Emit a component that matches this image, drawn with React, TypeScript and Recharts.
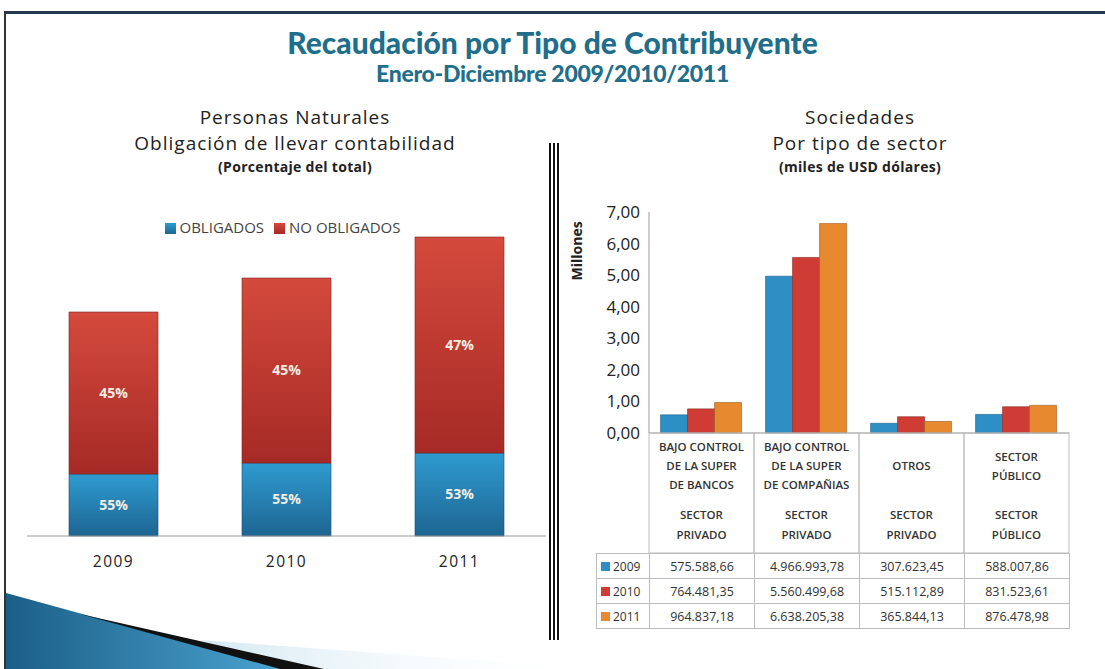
import React from 'react';
import { BarChart, Bar, XAxis, YAxis, Legend, LabelList } from 'recharts';

// Personas naturales (altura relativa de cada segmento) y etiquetas
const years = ['2009', '2010', '2011'];
const obligados = [62, 73, 83];
const noObligados = [162, 185, 216];
const obligadosPct = ['55%', '55%', '53%'];
const noObligadosPct = ['45%', '45%', '47%'];

// Sociedades por tipo de sector (USD)
const sectorKeys = ['bancos', 'companias', 'otros', 'publico'];
const headerTop = [
  ['BAJO CONTROL', 'DE LA SUPER', 'DE BANCOS'],
  ['BAJO CONTROL', 'DE LA SUPER', 'DE COMPAÑIAS'],
  ['OTROS'],
  ['SECTOR', 'PÚBLICO'],
];
const headerBottom = [
  ['SECTOR', 'PRIVADO'],
  ['SECTOR', 'PRIVADO'],
  ['SECTOR', 'PRIVADO'],
  ['SECTOR', 'PÚBLICO'],
];
const rec2009 = [575588.66, 4966993.78, 307623.45, 588007.86];
const rec2010 = [764481.35, 5560499.68, 515112.89, 831523.61];
const rec2011 = [964837.18, 6638205.38, 365844.13, 876478.98];
const yTicks = [0, 1, 2, 3, 4, 5, 6, 7];

const seriesColors = { y2009: '#2e8fc5', y2010: '#cf3c35', y2011: '#e6892f' };

const personasData = years.map((y, i) => ({
  year: y,
  obligados: obligados[i],
  noObligados: noObligados[i],
  obPct: obligadosPct[i],
  noPct: noObligadosPct[i],
}));

const sociedadesData = sectorKeys.map((k, i) => ({
  key: k,
  y2009: rec2009[i] / 1e6,
  y2010: rec2010[i] / 1e6,
  y2011: rec2011[i] / 1e6,
}));

const tableRows = [
  { label: '2009', color: seriesColors.y2009, values: rec2009 },
  { label: '2010', color: seriesColors.y2010, values: rec2010 },
  { label: '2011', color: seriesColors.y2011, values: rec2011 },
];

function fmtEs(v: number) {
  const [int, dec] = v.toFixed(2).split('.');
  return int.replace(/\B(?=(\d{3})+(?!\d))/g, '.') + ',' + dec;
}

const BAND = 105;
const HEADER_H = 120;

function SectorTick(props: any) {
  const { x, y, payload } = props;
  const i = payload.index;
  const top = headerTop[i];
  const bottom = headerBottom[i];
  const topStart = 466 - 433 - ((top.length - 1) * 19) / 2;
  return (
    <g>
      <rect x={x - BAND / 2} y={y} width={BAND} height={HEADER_H} fill="none" stroke="#bdbdbd" />
      {top.map((t: string, j: number) => (
        <text key={'t' + j} x={x} y={y + topStart + j * 19} dy="0.35em" textAnchor="middle"
          fontSize={11.5} fill="#333" fontWeight={600}>{t}</text>
      ))}
      {bottom.map((t: string, j: number) => (
        <text key={'b' + j} x={x} y={y + 82 + j * 20} dy="0.35em" textAnchor="middle"
          fontSize={11.5} fill="#333" fontWeight={600}>{t}</text>
      ))}
    </g>
  );
}

const font = "'Open Sans', 'Noto Sans', sans-serif";
const titleColor = '#1f6e8b';
const legendOrder: Record<string, number> = { obligados: 0, noObligados: 1 };
const subLine = { fontSize: 19, lineHeight: '26px', letterSpacing: 1 };
const subNote = { fontSize: 14, fontWeight: 700, lineHeight: '22px', letterSpacing: 0.3 };

export default function App() {
  return (
    <div style={{ position: 'absolute', left: 0, top: 0, width: 1105, height: 669, background: '#fff', overflow: 'hidden', fontFamily: font }}>
      {/* marco */}
      <div style={{ position: 'absolute', left: 4, top: 11, width: 1101, height: 3, background: '#24384f' }} />
      <div style={{ position: 'absolute', left: 4, top: 11, width: 2, height: 658, background: '#333' }} />

      {/* decoracion inferior */}
      <svg width={1105} height={669} style={{ position: 'absolute', left: 0, top: 0 }}>
        <defs>
          <linearGradient id="swoosh" x1="0" y1="0" x2="1" y2="0">
            <stop offset="0" stopColor="#1b5f88" />
            <stop offset="1" stopColor="#4aa3cf" />
          </linearGradient>
          <linearGradient id="glow" x1="0" y1="0" x2="1" y2="0">
            <stop offset="0" stopColor="#cfe6f1" stopOpacity="0.9" />
            <stop offset="1" stopColor="#ffffff" stopOpacity="0" />
          </linearGradient>
        </defs>
        <path d="M200,640 L600,669 L300,669 Z" fill="url(#glow)" />
        <path d="M6,593 L282,669 L6,669 Z" fill="url(#swoosh)" />
        <path d="M80,614 L324,669 L280,669 Z" fill="#111" />
      </svg>

      {/* titulos */}
      <div style={{ position: 'absolute', left: 0, top: 24, width: 1105, textAlign: 'center', fontFamily: 'Lato, sans-serif', fontWeight: 900, fontSize: 30, color: titleColor, lineHeight: '36px' }}>
        Recaudación por Tipo de Contribuyente
      </div>
      <div style={{ position: 'absolute', left: 0, top: 59, width: 1105, textAlign: 'center', fontFamily: 'Lato, sans-serif', fontWeight: 900, fontSize: 23, color: titleColor, lineHeight: '28px', letterSpacing: -0.3 }}>
        Enero-Diciembre 2009/2010/2011
      </div>

      <div style={{ position: 'absolute', left: 95, top: 104, width: 400, textAlign: 'center', color: '#222' }}>
        <div style={subLine}>Personas Naturales</div>
        <div style={subLine}>Obligación de llevar contabilidad</div>
        <div style={subNote}>(Porcentaje del total)</div>
      </div>
      <div style={{ position: 'absolute', left: 660, top: 104, width: 400, textAlign: 'center', color: '#222' }}>
        <div style={subLine}>Sociedades</div>
        <div style={subLine}>Por tipo de sector</div>
        <div style={subNote}>(miles de USD dólares)</div>
      </div>

      {/* separador */}
      {[549, 553, 557].map((x) => (
        <div key={x} style={{ position: 'absolute', left: x, top: 143, width: 2, height: 497, background: '#111' }} />
      ))}

      {/* grafico izquierdo */}
      <div style={{ position: 'absolute', left: 0, top: 200 }}>
        <BarChart width={560} height={376} data={personasData} margin={{ top: 18, right: 14, left: 27, bottom: 0 }} barSize={89}>
          <defs>
            <linearGradient id="gBlue" x1="0" y1="0" x2="0" y2="1">
              <stop offset="0" stopColor="#2f9bd0" />
              <stop offset="1" stopColor="#1d6592" />
            </linearGradient>
            <linearGradient id="gRed" x1="0" y1="0" x2="0" y2="1">
              <stop offset="0" stopColor="#d44a3c" />
              <stop offset="1" stopColor="#a62a26" />
            </linearGradient>
          </defs>
          <Legend verticalAlign="top" align="center" iconType="square" iconSize={11}
            itemSorter={(item: any) => legendOrder[item.dataKey] ?? 0}
            wrapperStyle={{ height: 18, lineHeight: '18px', fontSize: 15, left: 28, paddingLeft: 0 }}
            formatter={(v: string) => <span style={{ color: '#444' }}>{v}</span>} />
          <XAxis dataKey="year" axisLine={{ stroke: '#9a9a9a' }} tickLine={false} tickSize={0} tickMargin={20}
            tick={{ fontSize: 15.5, fill: '#222', letterSpacing: 1.5 }} height={40} />
          <YAxis hide domain={[0, 300]} />
          <Bar dataKey="obligados" name="OBLIGADOS" stackId="a" fill="url(#gBlue)" stroke="#1a4f72" strokeWidth={0.6} isAnimationActive={false}>
            <LabelList dataKey="obPct" position="center" fill="#f3ede3" fontSize={14} fontWeight={700} />
          </Bar>
          <Bar dataKey="noObligados" name="NO OBLIGADOS" stackId="a" fill="url(#gRed)" stroke="#7d231f" strokeWidth={0.6} isAnimationActive={false}>
            <LabelList dataKey="noPct" position="center" fill="#f3ede3" fontSize={14} fontWeight={700} />
          </Bar>
        </BarChart>
      </div>

      {/* grafico derecho */}
      <div style={{ position: 'absolute', left: 560, top: 195 }}>
        <BarChart width={520} height={358} data={sociedadesData} margin={{ top: 17, right: 11, left: 0, bottom: 0 }}
          barCategoryGap="11%" barGap={0}>
          <XAxis dataKey="key" axisLine={{ stroke: '#9a9a9a' }} tickLine={false} tickSize={0} tickMargin={0}
            height={HEADER_H} interval={0} tick={<SectorTick />} />
          <YAxis width={89} domain={[0, 7]} ticks={yTicks} axisLine={{ stroke: '#9a9a9a' }} tickLine={false}
            tickSize={0} tickMargin={9} tick={{ fontSize: 17, fill: '#222' }}
            tickFormatter={(v: number) => v.toFixed(2).replace('.', ',')}
            label={{ value: 'Millones', angle: -90, position: 'insideLeft', dx: 12, dy: -42, fontSize: 14, fontWeight: 700, fill: '#222' }} />
          <Bar dataKey="y2009" name="2009" fill={seriesColors.y2009} stroke="#1d5f85" strokeWidth={0.6} isAnimationActive={false} />
          <Bar dataKey="y2010" name="2010" fill={seriesColors.y2010} stroke="#8a2a25" strokeWidth={0.6} isAnimationActive={false} />
          <Bar dataKey="y2011" name="2011" fill={seriesColors.y2011} stroke="#9a5a1f" strokeWidth={0.6} isAnimationActive={false} />
        </BarChart>
      </div>

      {/* tabla de datos */}
      <table style={{ position: 'absolute', left: 596, top: 553, borderCollapse: 'collapse', fontSize: 12.5, color: '#333', tableLayout: 'fixed' }}>
        <colgroup>
          <col style={{ width: 53 }} />
          {sectorKeys.map((k) => <col key={k} style={{ width: BAND }} />)}
        </colgroup>
        <tbody>
          {tableRows.map((r) => (
            <tr key={r.label} style={{ height: 25 }}>
              <td style={{ border: '1px solid #bdbdbd', padding: '0 0 0 4px', whiteSpace: 'nowrap', fontSize: 12 }}>
                <span style={{ display: 'inline-block', width: 9, height: 9, background: r.color, marginRight: 3 }} />
                {r.label}
              </td>
              {r.values.map((v, i) => (
                <td key={i} style={{ border: '1px solid #bdbdbd', textAlign: 'center', padding: 0 }}>{fmtEs(v)}</td>
              ))}
            </tr>
          ))}
        </tbody>
      </table>
    </div>
  );
}
